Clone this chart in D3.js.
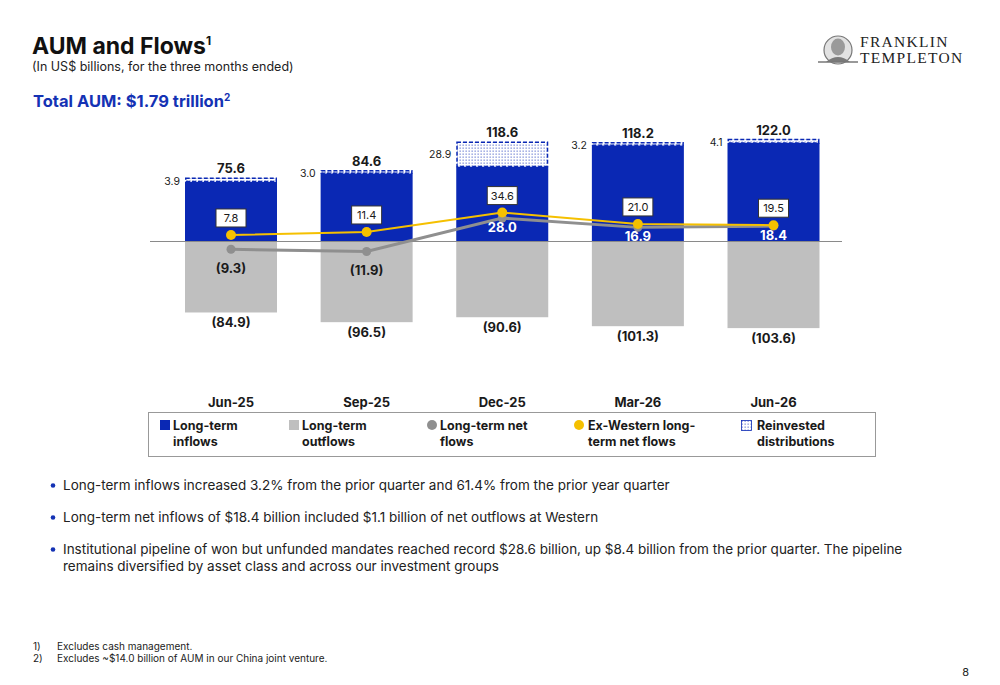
<!DOCTYPE html>
<html><head><meta charset="utf-8">
<script src="https://cdn.jsdelivr.net/npm/d3@7"></script>
<style>
html,body{margin:0;padding:0;background:#fff;}
svg{display:block;font-family:Inter,"Noto Sans",sans-serif;}
</style></head>
<body>
<svg id="c" width="1000" height="685"></svg>
<script>
const categories = ["Jun-25","Sep-25","Dec-25","Mar-26","Jun-26"];
const inflowTotals = [75.6, 84.6, 118.6, 118.2, 122.0];
const reinvested = [3.9, 3.0, 28.9, 3.2, 4.1];
const outflows = [-84.9, -96.5, -90.6, -101.3, -103.6];
const netFlows = [-9.3, -11.9, 28.0, 16.9, 18.4];
const exWesternNet = [7.8, 11.4, 34.6, 21.0, 19.5];
const legendItems = [
  {key:"in", lines:["Long-term","inflows"]},
  {key:"out", lines:["Long-term","outflows"]},
  {key:"net", lines:["Long-term net","flows"]},
  {key:"exw", lines:["Ex-Western long-","term net flows"]},
  {key:"rei", lines:["Reinvested","distributions"]}
];
const bullets = [
  ["Long-term inflows increased 3.2% from the prior quarter and 61.4% from the prior year quarter"],
  ["Long-term net inflows of $18.4 billion included $1.1 billion of net outflows at Western"],
  ["Institutional pipeline of won but unfunded mandates reached record $28.6 billion, up $8.4 billion from the prior quarter. The pipeline",
   "remains diversified by asset class and across our investment groups"]
];
const footnotes = [["1)","Excludes cash management."],["2)","Excludes ~$14.0 billion of AUM in our China joint venture."]];

const BLUE = "#0A28B4", GRAY_BAR = "#BFBFBF", GRAY_LINE = "#8F8F8F", YELLOW = "#F5C000", DARK = "#1a1a1a";
const fmt = d3.format(".1f");
const fmtNeg = v => v < 0 ? "(" + fmt(-v) + ")" : fmt(v);

const svg = d3.select("#c");
const defs = svg.append("defs");
const pat = defs.append("pattern").attr("id","dots").attr("width",3).attr("height",3).attr("patternUnits","userSpaceOnUse");
pat.append("rect").attr("width",3).attr("height",3).attr("fill","#fff");
pat.append("rect").attr("x",0.5).attr("y",0.5).attr("width",1.3).attr("height",1.3).attr("fill",BLUE).attr("opacity",0.55);

// Header
svg.append("text").attr("x",32).attr("y",54).attr("font-size",23).attr("font-weight",700).attr("fill","#111")
  .text("AUM and Flows").append("tspan").attr("font-size",12).attr("dy",-9).text("1");
svg.append("text").attr("x",32).attr("y",71).attr("font-size",12.5).attr("fill","#222").text("(In US$ billions, for the three months ended)");
svg.append("text").attr("x",33).attr("y",107).attr("font-size",16.5).attr("font-weight",700).attr("fill","#1432B4")
  .text("Total AUM: $1.79 trillion").append("tspan").attr("font-size",10).attr("dy",-6).text("2");

// Logo
const logo = svg.append("g");
logo.append("circle").attr("cx",838).attr("cy",50).attr("r",14).attr("fill","#e2e2e2").attr("stroke","#777").attr("stroke-width",1.2);
logo.append("ellipse").attr("cx",838).attr("cy",47).attr("rx",7).attr("ry",8.5).attr("fill","#9a9a9a");
logo.append("path").attr("d","M826,62 Q838,52 850,62 Z").attr("fill","#7a7a7a");
logo.append("path").attr("d","M818,62 L858,62").attr("stroke","#777").attr("stroke-width",1.5);
logo.append("text").attr("x",860).attr("y",47).attr("font-family","'Liberation Serif',serif").attr("font-size",15.5).attr("letter-spacing",1.3).attr("fill","#222").text("FRANKLIN");
logo.append("text").attr("x",860).attr("y",63).attr("font-family","'Liberation Serif',serif").attr("font-size",15.5).attr("letter-spacing",1.3).attr("fill","#222").text("TEMPLETON");

// Scales
const x = d3.scalePoint().domain(categories).range([231, 773.5]);
const barW = 92;
const y = d3.scaleLinear().domain([0, 100]).range([241.5, 157.9]);

const g = svg.append("g");
const data = categories.map((c,i)=>({c, tot:inflowTotals[i], rei:reinvested[i], out:outflows[i], net:netFlows[i], exw:exWesternNet[i]}));

// outflow bars
g.selectAll(".out").data(data).join("rect")
  .attr("x",d=>x(d.c)-barW/2).attr("width",barW)
  .attr("y",y(0)).attr("height",d=>y(d.out)-y(0)).attr("fill",GRAY_BAR);
// inflow bars (excl reinvested)
g.selectAll(".in").data(data).join("rect")
  .attr("x",d=>x(d.c)-barW/2).attr("width",barW)
  .attr("y",d=>y(d.tot-d.rei)).attr("height",d=>y(0)-y(d.tot-d.rei)).attr("fill",BLUE);
// reinvested
g.selectAll(".rei").data(data).join("rect")
  .attr("x",d=>x(d.c)-barW/2+0.75).attr("width",barW-1.5)
  .attr("y",d=>y(d.tot)).attr("height",d=>y(d.tot-d.rei)-y(d.tot)).attr("fill","url(#dots)")
  .attr("stroke",BLUE).attr("stroke-width",1.5).attr("stroke-dasharray","4,2");

// zero line
g.append("line").attr("x1",150).attr("x2",842).attr("y1",y(0)).attr("y2",y(0)).attr("stroke","#8a8a8a").attr("stroke-width",1);

// total labels
g.selectAll(".tl").data(data).join("text")
  .attr("x",d=>x(d.c)).attr("y",d=>y(d.tot)-5).attr("text-anchor","middle")
  .attr("font-size",13).attr("font-weight",700).attr("fill",DARK).text(d=>fmt(d.tot));
// reinvested labels
g.selectAll(".rl").data(data).join("text")
  .attr("x",d=>x(d.c)-barW/2-5).attr("y",d=>(y(d.tot)+y(d.tot-d.rei))/2+ (d.rei>10?4:5)).attr("text-anchor","end")
  .attr("font-size",10.5).attr("fill",DARK).text(d=>fmt(d.rei));
// outflow labels
g.selectAll(".ol").data(data).join("text")
  .attr("x",d=>x(d.c)).attr("y",d=>y(d.out)+15).attr("text-anchor","middle")
  .attr("font-size",13).attr("font-weight",700).attr("fill",DARK).text(d=>fmtNeg(d.out));

// lines
const lineNet = d3.line().x(d=>x(d.c)).y(d=>y(d.net));
const lineExw = d3.line().x(d=>x(d.c)).y(d=>y(d.exw));
g.append("path").datum(data).attr("d",lineNet).attr("fill","none").attr("stroke",GRAY_LINE).attr("stroke-width",3);
g.selectAll(".nd").data(data).join("circle").attr("cx",d=>x(d.c)).attr("cy",d=>y(d.net)).attr("r",4.5).attr("fill",GRAY_LINE);
g.append("path").datum(data).attr("d",lineExw).attr("fill","none").attr("stroke",YELLOW).attr("stroke-width",2);
g.selectAll(".ed").data(data).join("circle").attr("cx",d=>x(d.c)).attr("cy",d=>y(d.exw)).attr("r",5).attr("fill",YELLOW);

// net labels
g.selectAll(".nl").data(data).join("text")
  .attr("x",d=>x(d.c)).attr("y",d=>d.net<0 ? y(d.net)+24 : y(d.net)+14).attr("text-anchor","middle")
  .attr("font-size",13).attr("font-weight",700).attr("fill",d=>d.net<0?DARK:"#fff").text(d=>fmtNeg(d.net));
// ex-western labels
const el = g.selectAll(".el").data(data).join("g").attr("transform",d=>`translate(${x(d.c)},${y(d.exw)-17})`);
el.append("rect").attr("x",-15).attr("y",-9).attr("width",30).attr("height",18).attr("fill","#fff").attr("stroke","#333").attr("stroke-width",1);
el.append("text").attr("y",4).attr("text-anchor","middle").attr("font-size",11).attr("fill",DARK).text(d=>fmt(d.exw));

// category labels
g.selectAll(".cl").data(categories).join("text")
  .attr("x",d=>x(d)).attr("y",407).attr("text-anchor","middle")
  .attr("font-size",13).attr("font-weight",700).attr("fill",DARK).text(d=>d);

// legend
svg.append("rect").attr("x",148.5).attr("y",412.5).attr("width",727).attr("height",44).attr("fill","#fff").attr("stroke","#999").attr("stroke-width",1);
const legX = [160, 289, 427, 574, 741];
const lg = svg.selectAll(".lg").data(legendItems).join("g").attr("transform",(d,i)=>`translate(${legX[i]},0)`);
lg.each(function(d){
  const s = d3.select(this);
  if(d.key==="in") s.append("rect").attr("x",0).attr("y",420).attr("width",10).attr("height",10).attr("fill",BLUE);
  if(d.key==="out") s.append("rect").attr("x",0).attr("y",420).attr("width",10).attr("height",10).attr("fill",GRAY_BAR);
  if(d.key==="net") s.append("circle").attr("cx",5).attr("cy",425).attr("r",5).attr("fill",GRAY_LINE);
  if(d.key==="exw") s.append("circle").attr("cx",5).attr("cy",425).attr("r",5).attr("fill",YELLOW);
  if(d.key==="rei") s.append("rect").attr("x",0.5).attr("y",420.5).attr("width",10).attr("height",10).attr("fill","url(#dots)").attr("stroke",BLUE).attr("stroke-width",0.8);
  const tx = (d.key==="exw"||d.key==="rei") ? 14 : 13;
  const t = s.append("text").attr("font-size",12.5).attr("font-weight",700).attr("fill",DARK);
  d.lines.forEach((ln,j)=>t.append("tspan").attr("x",tx+ (d.key==="rei"?2:0)).attr("y",430+j*16).text(ln));
});

// bullets
let by = 490;
bullets.forEach(b=>{
  svg.append("circle").attr("cx",53).attr("cy",by-4.5).attr("r",2.3).attr("fill","#1432B4");
  const t = svg.append("text").attr("font-size",13.5).attr("fill","#222");
  b.forEach((ln,j)=>t.append("tspan").attr("x",63).attr("y",by+j*17).text(ln));
  by += 32 + (b.length-1)*17;
});

// footnotes
footnotes.forEach((f,i)=>{
  svg.append("text").attr("x",33).attr("y",650+i*12).attr("font-size",10).attr("fill","#222").text(f[0]);
  svg.append("text").attr("x",57).attr("y",650+i*12).attr("font-size",10).attr("fill","#222").text(f[1]);
});
svg.append("text").attr("x",969).attr("y",676).attr("text-anchor","end").attr("font-size",11).attr("fill","#222").text("8");
</script>
</body></html>
